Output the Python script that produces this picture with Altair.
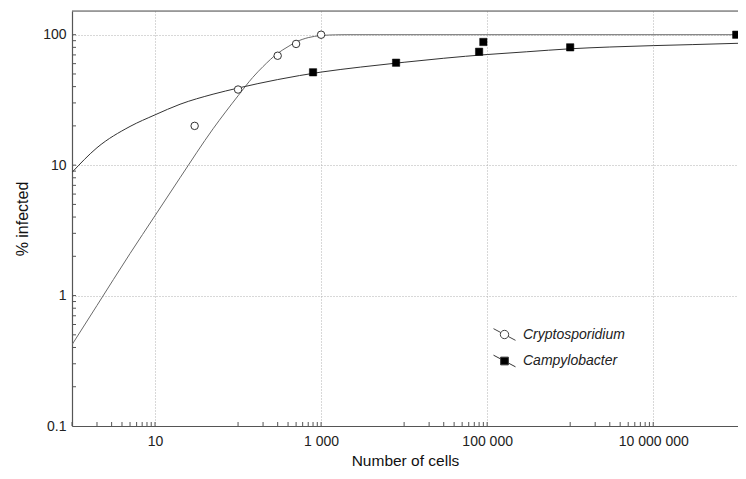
import altair as alt
import pandas as pd

# ---- data ----
series = ["Cryptosporidium", "Campylobacter"]

crypto_cells = [30, 100, 300, 500, 1000]
crypto_pct = [20, 38, 69, 85, 100]

campy_cells = [800, 8000, 80000, 90000, 1000000, 100000000]
campy_pct = [51.5, 61, 74, 88, 80, 100]

crypto_fit_cells = [1, 2, 5, 10, 20, 50, 100, 150, 200, 300, 400, 500, 700,
                    1000, 1500, 2000, 5000, 1000000, 110000000]
crypto_fit_pct = [0.42, 0.84, 2.1, 4.1, 8.0, 19, 34, 47, 57, 72, 81, 88, 95,
                  98.5, 99.8, 100, 100, 100, 100]

campy_fit_cells = [1, 2, 5, 10, 20, 50, 100, 300, 1000, 3000, 10000, 30000,
                   100000, 300000, 1000000, 3000000, 10000000, 30000000, 110000000]
campy_fit_pct = [8.8, 13.6, 19.8, 24.3, 29.3, 35, 39, 45.3, 51.7, 56.5, 61.5, 66,
                 70.5, 74, 78, 80.5, 82.5, 84, 86]

x_label_values = [10, 1000, 100000, 10000000]
y_label_values = [0.1, 1, 10, 100]
x_tick_values = [m * 10 ** e for e in (0, 2, 4, 6) for m in range(1, 10)] + [10, 1000, 100000, 10000000]
y_tick_values = [round(m * 10.0 ** e, 3) for e in (-1, 0, 1) for m in range(2, 10)] + [1, 10, 100]

# ---- layout / style ----
FONT = "Liberation Sans"
W, H = 666, 415

xs = alt.Scale(type="log", domain=[1, 1.05e8], nice=False)
ys = alt.Scale(type="log", domain=[0.1, 152], nice=False)

xaxis = alt.Axis(
    values=x_label_values,
    labelExpr="replace(format(datum.value, ','), regexp(',', 'g'), ' ')",
    grid=True, gridDash=[1, 2], gridColor="#b0b0b0", gridWidth=1,
    ticks=False, domain=True, domainColor="#555", domainWidth=1.2,
    labelFont=FONT, labelFontSize=14, labelColor="#222", labelPadding=8,
    title="Number of cells", titleFont=FONT, titleFontSize=15.5,
    titleFontWeight="normal", titleColor="#111", titlePadding=5,
)
yaxis = alt.Axis(
    values=y_label_values, format="~g",
    grid=True, gridDash=[1, 2], gridColor="#b0b0b0", gridWidth=1,
    ticks=False, domain=True, domainColor="#555", domainWidth=1.2,
    labelFont=FONT, labelFontSize=14, labelColor="#222", labelPadding=6,
    title="% infected", titleFont=FONT, titleFontSize=16,
    titleFontWeight="normal", titleColor="#111", titlePadding=12,
)

X = lambda f: alt.X(f, type="quantitative", scale=xs, axis=xaxis)
Y = lambda f: alt.Y(f, type="quantitative", scale=ys, axis=yaxis)

crypto_fit = pd.DataFrame({"cells": crypto_fit_cells, "pct": crypto_fit_pct})
campy_fit = pd.DataFrame({"cells": campy_fit_cells, "pct": campy_fit_pct})
crypto_pts = pd.DataFrame({"cells": crypto_cells, "pct": crypto_pct})
campy_pts = pd.DataFrame({"cells": campy_cells, "pct": campy_pct})

line_crypto = alt.Chart(crypto_fit).mark_line(
    color="#6a6a6a", strokeWidth=1, clip=True, interpolate="monotone"
).encode(x=X("cells"), y=Y("pct"))
line_campy = alt.Chart(campy_fit).mark_line(
    color="#333", strokeWidth=1, clip=True, interpolate="monotone"
).encode(x=X("cells"), y=Y("pct"))

pts_crypto = alt.Chart(crypto_pts).mark_point(
    shape="circle", size=56, filled=True, fill="white", stroke="#333", strokeWidth=1, opacity=1
).encode(x=X("cells"), y=Y("pct"))
pts_campy = alt.Chart(campy_pts).mark_point(
    shape="square", size=54, filled=True, fill="black", stroke="black", strokeWidth=0.5, opacity=1
).encode(x=X("cells"), y=Y("pct"))

# inward minor/major ticks
xticks = alt.Chart(pd.DataFrame({"v": x_tick_values})).mark_rule(color="#555", strokeWidth=1).encode(
    x=X("v"), y=alt.value(H), y2=alt.value(H - 4))
yticks = alt.Chart(pd.DataFrame({"v": y_tick_values})).mark_rule(color="#555", strokeWidth=1).encode(
    y=Y("v"), x=alt.value(0), x2=alt.value(4))

# top frame line
top_line = alt.Chart(pd.DataFrame({"a": [0]})).mark_rule(color="#555", strokeWidth=1.2).encode(
    x=alt.value(0), x2=alt.value(W), y=alt.value(0))

# legend (Statistica-style symbols: marker with a diagonal line through it)
crypto_sym = ("M-1,-0.53L-0.336,-0.178M0.336,0.178L1,0.53"
              "M0.38,0A0.38,0.38,0,1,1,-0.38,0A0.38,0.38,0,1,1,0.38,0Z")
campy_sym = ("M-1,-0.53L-0.35,-0.185M0.35,0.185L1,0.53"
             "M-0.35,-0.35L0.35,-0.35L0.35,0.35L-0.35,0.35Z")
leg = alt.Legend(
    orient="none", legendX=421, legendY=312, title=None, padding=0,
    labelFont=FONT, labelFontSize=14, labelFontStyle="italic", labelColor="#222",
    symbolSize=484, labelOffset=7, rowPadding=6.5,
    symbolStrokeColor="#444", symbolStrokeWidth=1,
)
legend_layer = alt.Chart(pd.DataFrame({"series": series})).transform_filter("false").mark_point(
    filled=True, strokeWidth=1, size=484, opacity=1
).encode(
    shape=alt.Shape("series:N", scale=alt.Scale(domain=series, range=[crypto_sym, campy_sym]), legend=leg),
    fill=alt.Fill("series:N", scale=alt.Scale(domain=series, range=["white", "black"]), legend=leg),
    stroke=alt.Stroke("series:N", scale=alt.Scale(domain=series, range=["#444", "#333"]), legend=leg),
)

chart = alt.layer(
    xticks, yticks, top_line, line_crypto, line_campy, pts_crypto, pts_campy, legend_layer
).properties(
    width=W, height=H,
    padding={"left": 64, "top": 3, "right": 0, "bottom": 45},
    autosize=alt.AutoSizeParams(type="none"),
).configure_view(stroke=None).configure(background="white")

chart.save("out.html", embed_options={"renderer": "svg", "actions": False})
